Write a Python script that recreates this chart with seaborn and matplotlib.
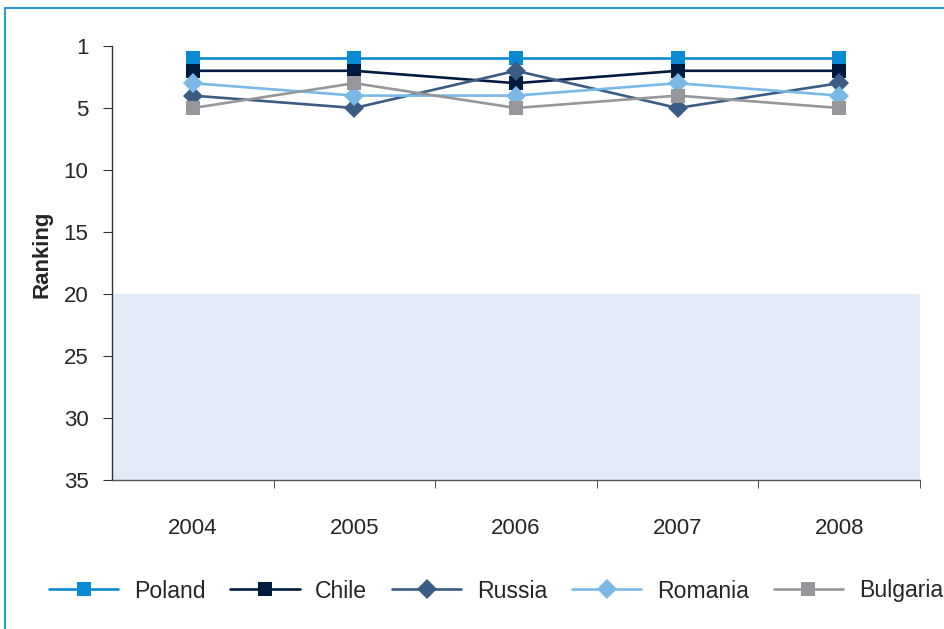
import numpy as np
import pandas as pd
import seaborn as sns
import matplotlib
matplotlib.use("Agg")
import matplotlib.pyplot as plt
from matplotlib.patches import Rectangle

years = ["2004", "2005", "2006", "2007", "2008"]
poland = [1, 1, 1, 1, 1]
chile = [2, 2, 3, 2, 2]
russia = [4, 5, 2, 5, 3]
romania = [3, 4, 4, 3, 4]
bulgaria = [5, 3, 5, 4, 5]
countries = ["Poland", "Chile", "Russia", "Romania", "Bulgaria"]
ytick_vals = [0, 5, 10, 15, 20, 25, 30, 35]
ytick_labels = ["1", "5", "10", "15", "20", "25", "30", "35"]
shade_from, shade_to = 20, 35

colors = {"Poland": "#0a8ad2", "Chile": "#001a40", "Russia": "#3b5c85",
          "Romania": "#7ab9e6", "Bulgaria": "#95979a"}
markers = {"Poland": "s", "Chile": "s", "Russia": "D", "Romania": "D", "Bulgaria": "s"}

rows = []
for name, vals in zip(countries, [poland, chile, russia, romania, bulgaria]):
    for i, v in enumerate(vals):
        rows.append({"pos": i, "year": years[i], "country": name, "rank": v})
df = pd.DataFrame(rows)

sns.set_style("white")
plt.rcParams["font.family"] = ["Liberation Sans", "DejaVu Sans"]
fs = 16

fig = plt.figure(figsize=(9.45, 6.29), dpi=100)
ax = fig.add_axes([112 / 945, 1 - 480 / 629, 808 / 945, 434 / 629])

# shaded band
ax.axhspan(shade_from, shade_to, color="#e1eaf6", zorder=0, lw=0)

sns.lineplot(data=df, x="pos", y="rank", hue="country", style="country",
             hue_order=countries, style_order=countries, palette=colors,
             markers=markers, dashes=False, markersize=10, linewidth=1.9,
             markeredgewidth=0, ax=ax)

ax.set_xlim(-0.5, len(years) - 0.5)
ax.set_ylim(35, 0)
ax.set_yticks(ytick_vals)
ax.set_yticklabels(ytick_labels)
ax.set_xticks(range(len(years)))
ax.set_xticklabels(years)
ax.set_xticks(np.arange(0.5, len(years), 1.0), minor=True)
ax.tick_params(axis="x", which="major", length=0, pad=27, labelsize=fs)
ax.tick_params(axis="x", which="minor", length=6, direction="out", color="#333333", bottom=True)
ax.tick_params(axis="y", length=6.5, direction="out", left=True, color="#333333", pad=10.5, labelsize=fs)
ax.set_xlabel("")
ax.set_ylabel("Ranking", fontsize=fs, fontweight="bold")
ax.yaxis.set_label_coords(-0.074, 0.52)

for s in ["top", "right"]:
    ax.spines[s].set_visible(False)
ax.spines["left"].set_color("#333333")
ax.spines["bottom"].set_color("#555555")
ax.spines["left"].set_linewidth(1.0)
ax.spines["bottom"].set_linewidth(1.0)

handles, labels = ax.get_legend_handles_labels()
ax.legend(handles, labels, loc="center", bbox_to_anchor=(496 / 945, 1 - 591 / 629),
          bbox_transform=fig.transFigure, ncol=5, frameon=False, fontsize=16.6,
          handlelength=3.0, handletextpad=0.68, columnspacing=1.08,
          borderpad=0, borderaxespad=0)

# outer border
fig.patches.append(Rectangle((5 / 945, -0.1), 1.2, 1.1 - 8 / 629,
                             transform=fig.transFigure, fill=False,
                             edgecolor="#2a9ad8", lw=1.5, zorder=10))

fig.savefig("out.png", dpi=100)
